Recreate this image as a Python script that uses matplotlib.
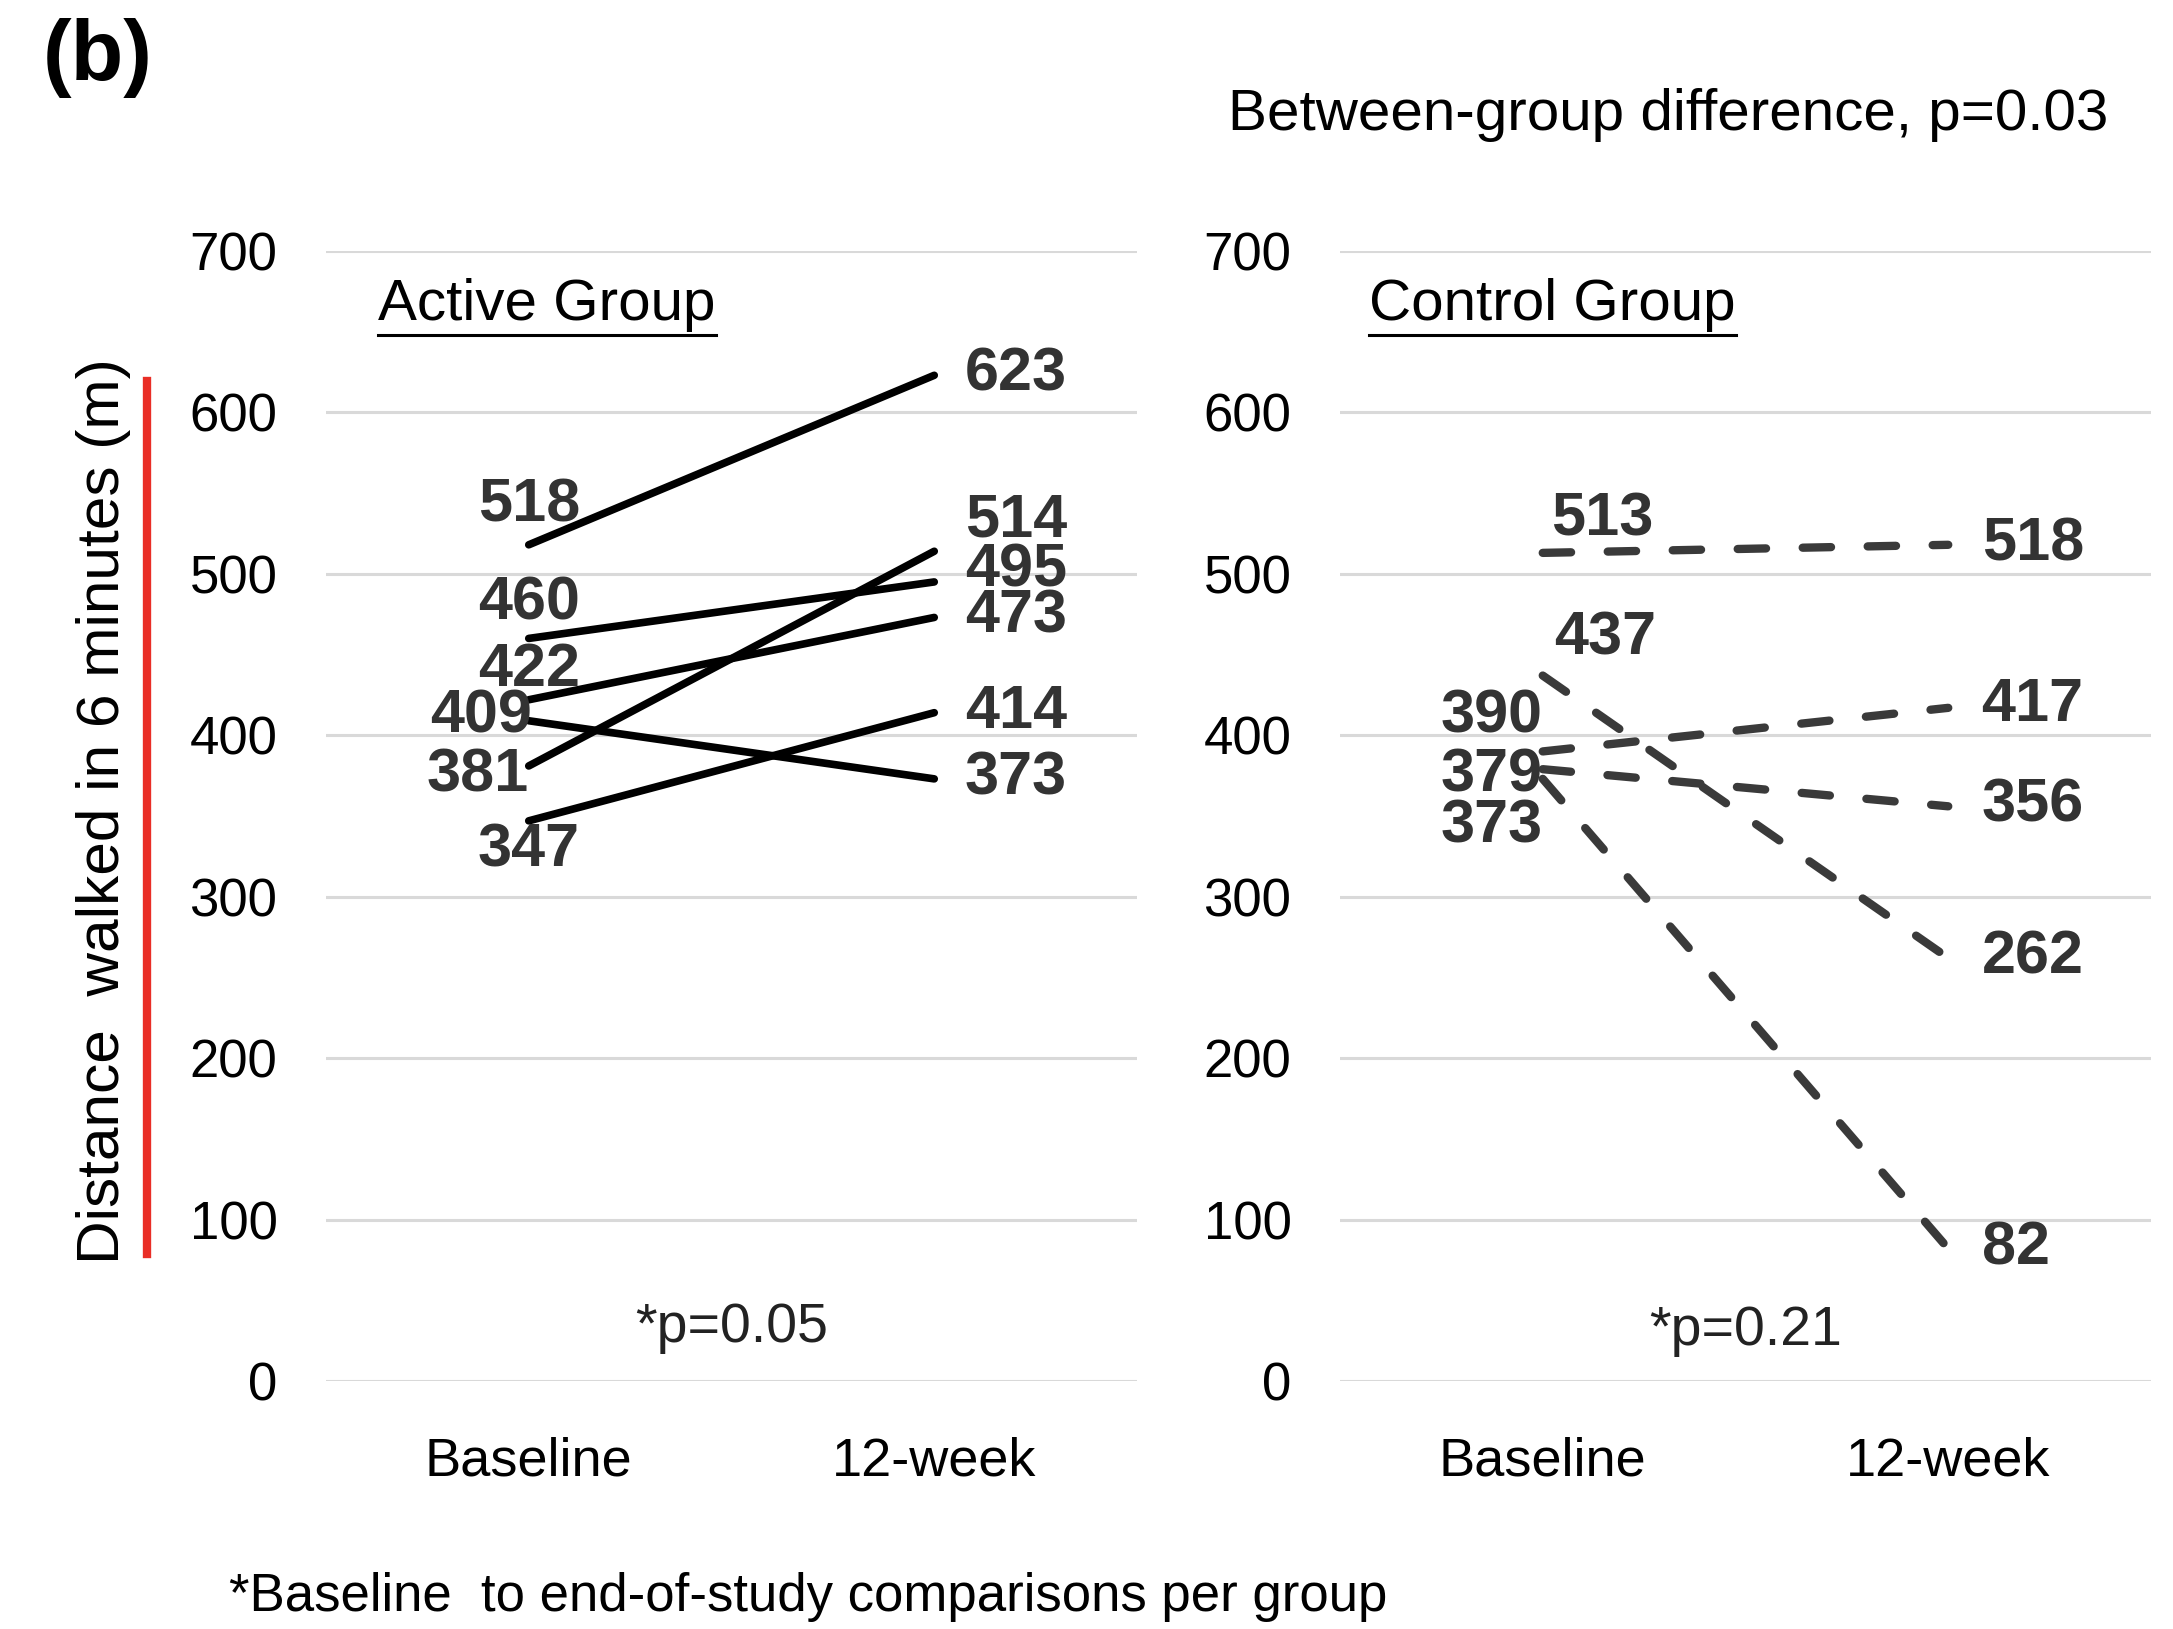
import matplotlib
matplotlib.use("Agg")
import matplotlib.pyplot as plt
from matplotlib.lines import Line2D

plt.rcParams['font.family'] = ['Liberation Sans Narrow', 'Liberation Sans', 'DejaVu Sans']

# six-minute walk distances (m)
categories = ['Baseline', '12-week']
y_ticks = [0, 100, 200, 300, 400, 500, 600, 700]

active_baseline = [518, 460, 422, 409, 381, 347]
active_week12 = [623, 495, 473, 373, 514, 414]

control_baseline = [513, 437, 390, 379, 373]
control_week12 = [518, 262, 417, 356, 82]

active_p = '*p=0.05'
control_p = '*p=0.21'

# label placement: (ha, dx, dy) in points
active_base_pos = [('center', 0, 28), ('center', 0, 25), ('center', 0, 21),
                   ('right', 2, 3), ('right', 0, -7), ('center', 0, -22)]
active_end_pos = [('left', 22, 0), ('left', 22, 8), ('left', 22, 0),
                  ('left', 22, 0), ('left', 22, 22), ('left', 22, 0)]
control_base_pos = [('left', 6, 24), ('left', 8, 26), ('right', 0, 25),
                    ('right', 0, -5), ('right', 0, -35)]
control_end_pos = [('left', 24, 0), ('left', 24, 0), ('left', 24, 2),
                   ('left', 24, 0), ('left', 24, 0)]

W, H = 2173, 1629
fig = plt.figure(figsize=(W / 100, H / 100), dpi=100)
fig.patch.set_facecolor('white')

ax_bottom = 1 - 1381 / H
ax_height = 1130 / H
ax_width = 811 / W
ax1 = fig.add_axes([326 / W, ax_bottom, ax_width, ax_height])
ax2 = fig.add_axes([1340 / W, ax_bottom, ax_width, ax_height])

label_color = '#333333'


def setup(ax):
    ax.set_xlim(-0.5, 1.5)
    ax.set_ylim(0, 700)
    ax.set_yticks(y_ticks)
    ax.set_yticklabels([str(t) for t in y_ticks], fontsize=38)
    ax.set_xticks([0, 1])
    ax.set_xticklabels(categories, fontsize=39)
    ax.tick_params(axis='y', length=0, pad=35)
    ax.tick_params(axis='x', length=0, pad=40)
    for s in ax.spines.values():
        s.set_visible(False)
    ax.grid(axis='y', color='#d9d9d9', linewidth=2.2)
    ax.set_axisbelow(True)


def add_labels(ax, xs, values, positions):
    for x, v, (ha, dx, dy) in zip(xs, values, positions):
        ax.annotate(str(v), (x, v), xytext=(dx, dy), textcoords='offset points',
                    ha=ha, va='center', fontsize=44, fontweight='bold',
                    color=label_color, annotation_clip=False)


setup(ax1)
setup(ax2)

for b, e in zip(active_baseline, active_week12):
    ax1.plot([0, 1], [b, e], color='black', linewidth=5.5, solid_capstyle='round')
add_labels(ax1, [0] * len(active_baseline), active_baseline, active_base_pos)
add_labels(ax1, [1] * len(active_week12), active_week12, active_end_pos)

for b, e in zip(control_baseline, control_week12):
    ax2.plot([0, 1], [b, e], color='#3a3a3a', linewidth=6,
             linestyle=(0, (3.4, 4.4)), dash_capstyle='round')
add_labels(ax2, [0] * len(control_baseline), control_baseline, control_base_pos)
add_labels(ax2, [1] * len(control_week12), control_week12, control_end_pos)

ax1.text(0.5, 33, active_p, ha='center', va='center', fontsize=40, color='#222222')
ax2.text(0.5, 31, control_p, ha='center', va='center', fontsize=40, color='#222222')

# group titles, underlined
titles = []
titles.append(fig.text(378 / W, 1 - 305 / H, 'Active Group', ha='left', va='center',
                       fontsize=42))
titles.append(fig.text(1369 / W, 1 - 305 / H, 'Control Group', ha='left', va='center',
                       fontsize=42))

fig.text(98 / W, 1 - 58 / H, '(b)', ha='center', va='center', fontsize=62,
         fontweight='bold')
fig.text(1228 / W, 1 - 115 / H, 'Between-group difference, p=0.03', ha='left',
         va='center', fontsize=42)
fig.text(104 / W, 1 - 811 / H, 'Distance  walked in 6 minutes (m)', rotation=90,
         ha='center', va='center', fontsize=43.5)
fig.text(229 / W, 1 - 1597 / H, '*Baseline  to end-of-study comparisons per group',
         ha='left', va='center', fontsize=38)

# red proofing mark beside the axis title
fig.add_artist(Line2D([147 / W, 147 / W], [1 - 381 / H, 1 - 1254 / H],
                      color='#e8231a', linewidth=6, alpha=0.95))

fig.canvas.draw()
renderer = fig.canvas.get_renderer()
for t in titles:
    bb = t.get_window_extent(renderer).transformed(fig.transFigure.inverted())
    y = bb.y0 - 0.002
    fig.add_artist(Line2D([bb.x0, bb.x1], [y, y], color='black', linewidth=2.2))

fig.savefig('out.png', dpi=100, facecolor='white')
